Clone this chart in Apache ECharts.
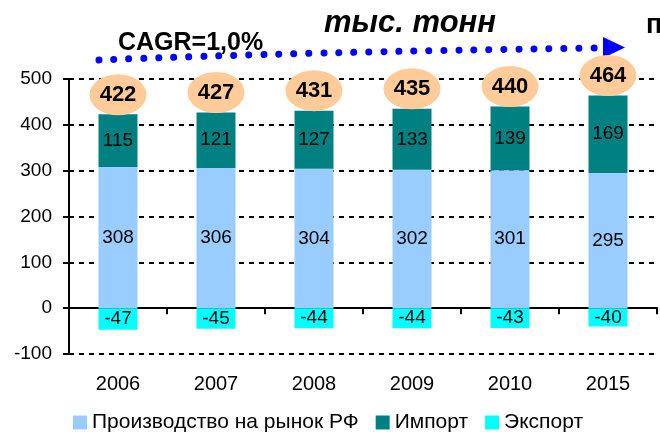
<!DOCTYPE html>
<html>
<head>
<meta charset="utf-8">
<script src="https://cdn.jsdelivr.net/npm/echarts@6/dist/echarts.min.js"></script>
<style>
  html, body { margin: 0; padding: 0; background: #fff; }
  #chart { width: 660px; height: 432px; }
</style>
</head>
<body>
<div id="chart"></div>
<script>
// Рынок: производство, импорт, экспорт (тыс. тонн)
const years = ['2006', '2007', '2008', '2009', '2010', '2015'];
const production = [308, 306, 304, 302, 301, 295];
const imports = [115, 121, 127, 133, 139, 169];
const exports = [-47, -45, -44, -44, -43, -40];
const totals = [422, 427, 431, 435, 440, 464];
const yTicks = { min: -100, max: 500, step: 100 };

const FONT = 'Arial, "Liberation Sans", sans-serif';

const chart = echarts.init(document.getElementById('chart'), null, { renderer: 'canvas' });

const barLabel = {
  show: true,
  position: 'inside',
  color: '#000',
  fontFamily: FONT,
  fontSize: 19
};

chart.setOption({
  animation: false,
  backgroundColor: '#fff',
  textStyle: { fontFamily: FONT },
  grid: { left: 69, right: 3, top: 79, bottom: 78, containLabel: false, outerBoundsMode: 'none' },
  legend: {
    left: 68,
    top: 407,
    itemWidth: 14,
    itemHeight: 14,
    itemGap: 17,
    icon: 'rect',
    textStyle: { color: '#000', fontSize: 21, fontFamily: FONT, padding: [0, 0, 0, 0] },
    data: ['Производство на рынок РФ', 'Импорт', 'Экспорт']
  },
  xAxis: {
    type: 'category',
    data: years,
    axisLine: { onZero: true, lineStyle: { color: '#000', width: 2 } },
    axisTick: { show: true, length: 6, lineStyle: { color: '#000', width: 2 } },
    axisLabel: { color: '#000', fontSize: 20, fontFamily: FONT, margin: 20 },
    splitLine: { show: false }
  },
  yAxis: {
    type: 'value',
    min: yTicks.min,
    max: yTicks.max,
    interval: yTicks.step,
    axisLine: { show: true, lineStyle: { color: '#000', width: 2 } },
    axisTick: { show: true, length: 6, lineStyle: { color: '#000', width: 2 } },
    axisLabel: { color: '#000', fontSize: 19, fontFamily: FONT, margin: 17 },
    splitLine: { show: true, lineStyle: { color: '#000', width: 2, type: [5, 5] } }
  },
  series: [
    {
      name: 'Производство на рынок РФ',
      type: 'bar',
      stack: 'market',
      barWidth: 39,
      data: production,
      itemStyle: { color: '#99CCFF' },
      label: barLabel
    },
    {
      name: 'Импорт',
      type: 'bar',
      stack: 'market',
      barWidth: 39,
      data: imports,
      itemStyle: { color: '#008080' },
      label: barLabel
    },
    {
      name: 'Экспорт',
      type: 'bar',
      stack: 'market',
      barWidth: 39,
      data: exports,
      itemStyle: { color: '#00FFFF' },
      label: barLabel
    },
    {
      name: 'Итого',
      type: 'scatter',
      data: totals,
      symbol: 'circle',
      symbolSize: [57, 41],
      symbolOffset: [0, -20],
      itemStyle: { color: '#FFCC99', opacity: 1 },
      z: 5,
      label: {
        show: true,
        position: 'inside',
        color: '#000',
        fontFamily: FONT,
        fontSize: 22,
        fontWeight: 'bold'
      }
    }
  ],
  graphic: [
    {
      type: 'bezierCurve',
      silent: true,
      shape: { x1: 99, y1: 60, cpx1: 300, cpy1: 52, x2: 596, y2: 48 },
      style: { stroke: '#0000FF', lineWidth: 7, lineCap: 'round', lineDash: [0.01, 15], fill: null }
    },
    {
      type: 'polygon',
      silent: true,
      shape: { points: [[603, 37], [625, 47.5], [603, 58]] },
      style: { fill: '#0000FF' }
    },
    {
      type: 'text',
      left: 118,
      top: 31,
      style: { text: 'CAGR=1,0%', fill: '#000', font: 'bold 25px ' + FONT }
    },
    {
      type: 'text',
      left: 324,
      top: 8,
      style: { text: 'тыс. тонн', fill: '#000', font: 'italic bold 31px ' + FONT }
    },
    {
      type: 'text',
      left: 646,
      top: 12,
      style: { text: 'п', fill: '#000', font: 'bold 27px ' + FONT }
    }
  ]
});
</script>
</body>
</html>
